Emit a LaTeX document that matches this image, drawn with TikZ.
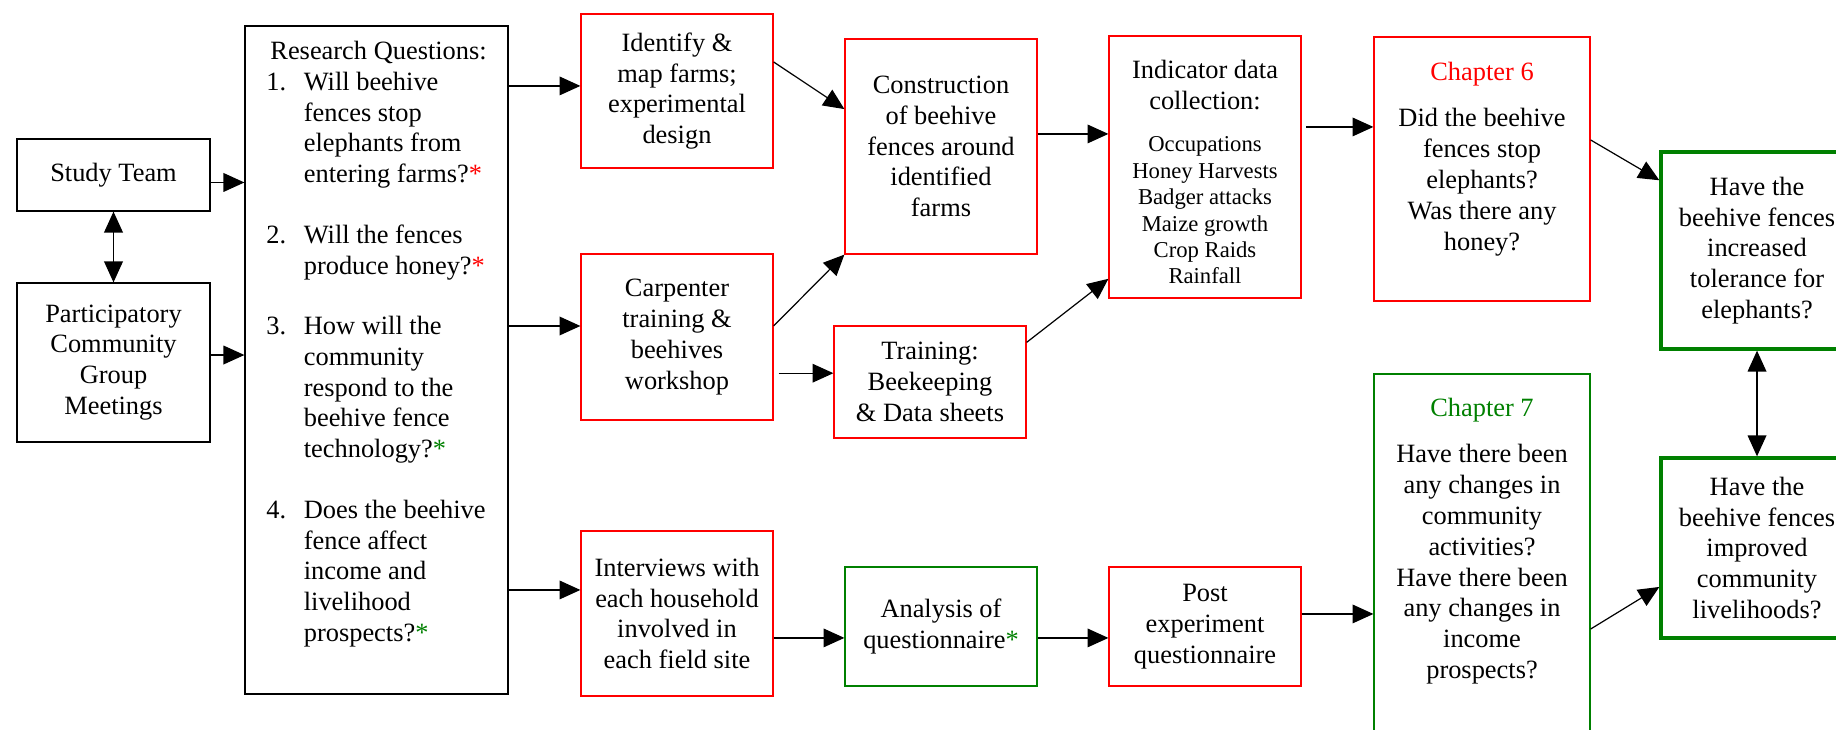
\documentclass[tikz,border=0pt]{standalone}
\usepackage{fontspec}
\setmainfont{Liberation Serif}
\usetikzlibrary{arrows.meta, positioning}
\definecolor{wordgreen}{RGB}{0,128,0}

\begin{document}
\begin{tikzpicture}[x=0.4545pt, y=-0.4545pt,
    box/.style 2 args={draw, line width=0.55pt, inner sep=0pt, align=center,
        minimum width=#1*0.4545pt, minimum height=#2*0.4545pt,
        font=\fontsize{12}{14}\selectfont},
    blackbox/.style 2 args={box={#1}{#2}, draw=black},
    redbox/.style 2 args={box={#1}{#2}, draw=red},
    greenbox/.style 2 args={box={#1}{#2}, draw=wordgreen},
    goalbox/.style 2 args={box={#1}{#2}, draw=wordgreen, line width=1.5pt},
    plain/.style={inner sep=0pt, align=center, font=\fontsize{12}{14}\selectfont},
    small/.style={inner sep=0pt, align=center, font=\fontsize{10.3}{12}\selectfont},
    arr/.style={-{Triangle[length=9.5pt,width=8.5pt]}, line width=0.55pt},
    dblarr/.style={{Triangle[length=9.5pt,width=8.5pt]}-{Triangle[length=9.5pt,width=8.5pt]}, line width=0.55pt}]
    \useasboundingbox (0,0) rectangle (1836,730);
    \clip (0,0) rectangle (1836,730);

    % Study team and community meetings (far left)
    \node[blackbox={193}{72}] (study) at (113.5,175) {Study Team};
    \node[blackbox={193}{159}] (pcgm) at (113.5,362.5) {Participatory\\Community\\Group\\Meetings};
    \draw[dblarr] (study.south) -- (pcgm.north);

    % Research questions
    \node[blackbox={263}{668}] (rq) at (376.5,360) {};
    \node[anchor=north west, inner sep=0pt, font=\fontsize{12}{14}\selectfont] (rqtext) at (266,37.5) {%
      \begin{tabular}{@{}p{17pt}@{}l@{}}
        \multicolumn{2}{@{\hspace{1.8pt}}l@{}}{Research Questions:}\\
        1. & Will beehive\\
           & fences stop\\
           & elephants from\\
           & entering farms?\textcolor{red}{*}\\[13.5pt]
        2. & Will the fences\\
           & produce honey?\textcolor{red}{*}\\[13.5pt]
        3. & How will the\\
           & community\\
           & respond to the\\
           & beehive fence\\
           & technology?\textcolor{wordgreen}{*}\\[13.5pt]
        4. & Does the beehive\\
           & fence affect\\
           & income and\\
           & livelihood\\
           & prospects?\textcolor{wordgreen}{*}
      \end{tabular}};
    \draw[arr] ([yshift=-3.4pt]study.east) -- ([yshift=-3.4pt]study.east -| rq.west);
    \draw[arr] ([yshift=3.4pt]pcgm.east) -- ([yshift=3.4pt]pcgm.east -| rq.west);

    % Field work
    \node[redbox={192}{154}] (identify) at (677,91) {Identify \&\\map farms;\\experimental\\design};
    \node[redbox={192}{166}] (carpenter) at (677,337) {Carpenter\\training \&\\beehives\\workshop};
    \node[redbox={192}{165}] (interviews) at (677,613.5) {Interviews with\\each household\\involved in\\each field site};
    \draw[arr] ([yshift=2.3pt]identify.west -| rq.east) -- ([yshift=2.3pt]identify.west);
    \draw[arr] ([yshift=5pt]carpenter.west -| rq.east) -- ([yshift=5pt]carpenter.west);
    \draw[arr] ([yshift=10.7pt]interviews.west -| rq.east) -- ([yshift=10.7pt]interviews.west);

    \node[redbox={192}{215}] (construction) at (941,146.5) {Construction\\of beehive\\fences around\\identified\\farms};
    \node[redbox={192}{112}] (training) at (930,382) {Training:\\Beekeeping\\\& Data sheets};
    \node[greenbox={192}{119}] (analysis) at (941,626.5) {Analysis of\\questionnaire\textcolor{wordgreen}{*}};
    \draw[arr] ([yshift=13.2pt]identify.east) -- ([yshift=17pt]construction.west);
    \draw[arr] ([yshift=5pt]carpenter.east) -- (construction.south west);
    \draw[arr] ([xshift=2.3pt,yshift=4pt]training.west -| carpenter.east) -- ([yshift=4pt]training.west);
    \draw[arr] ([yshift=-11.1pt]interviews.east) -- ([yshift=-11.1pt]interviews.east -| analysis.west);

    % Data collection
    \node[redbox={192}{262}] (indicator) at (1205,167) {};
    \node[plain, anchor=north] (indtitle) at (1205,60) {Indicator data\\collection:};
    \node[small, anchor=north] (indlist) at (1205,136.5) {Occupations\\Honey Harvests\\Badger attacks\\Maize growth\\Crop Raids\\Rainfall};
    \node[redbox={192}{119}] (post) at (1205,626.5) {Post\\experiment\\questionnaire};
    \draw[arr] ([yshift=5.7pt]construction.east) -- ([yshift=5.7pt]construction.east -| indicator.west);
    \draw[arr] ([yshift=18pt]training.east) -- ([yshift=9pt]indicator.south west);
    \draw[arr] ([yshift=-5.2pt]analysis.east) -- ([yshift=-5.2pt]analysis.east -| post.west);

    % Chapters
    \node[redbox={216}{264}] (ch6) at (1482,169) {};
    \node[plain, anchor=north] (ch6text) at (1482,62) {\textcolor{red}{Chapter 6}\\[7pt]Did the beehive\\fences stop\\elephants?\\Was there any\\honey?};
    \node[greenbox={216}{386}] (ch7) at (1482,567) {};
    \node[plain, anchor=north] (ch7text) at (1482,398) {\textcolor{wordgreen}{Chapter 7}\\[7pt]Have there been\\any changes in\\community\\activities?\\Have there been\\any changes in\\income\\prospects?};
    \draw[arr] ([xshift=2pt,yshift=18.2pt]indicator.east) -- ([yshift=18.2pt]indicator.east -| ch6.west);
    \draw[arr] ([yshift=5.7pt]post.east) -- ([yshift=5.7pt]post.east -| ch7.west);

    % Outcomes (cut by the right edge)
    \node[goalbox={192}{197}] (tolerance) at (1757,250.5) {Have the\\beehive fences\\increased\\tolerance for\\elephants?};
    \node[goalbox={192}{180}] (livelihoods) at (1757,548) {Have the\\beehive fences\\improved\\community\\livelihoods?};
    \draw[arr] ([yshift=13.2pt]ch6.east) -- ([yshift=-13.6pt]tolerance.north west);
    \draw[arr] ([yshift=-28.2pt]ch7.east) -- ([yshift=-17.7pt]livelihoods.west);
    \draw[dblarr] (tolerance.south) -- (livelihoods.north);
\end{tikzpicture}
\end{document}
